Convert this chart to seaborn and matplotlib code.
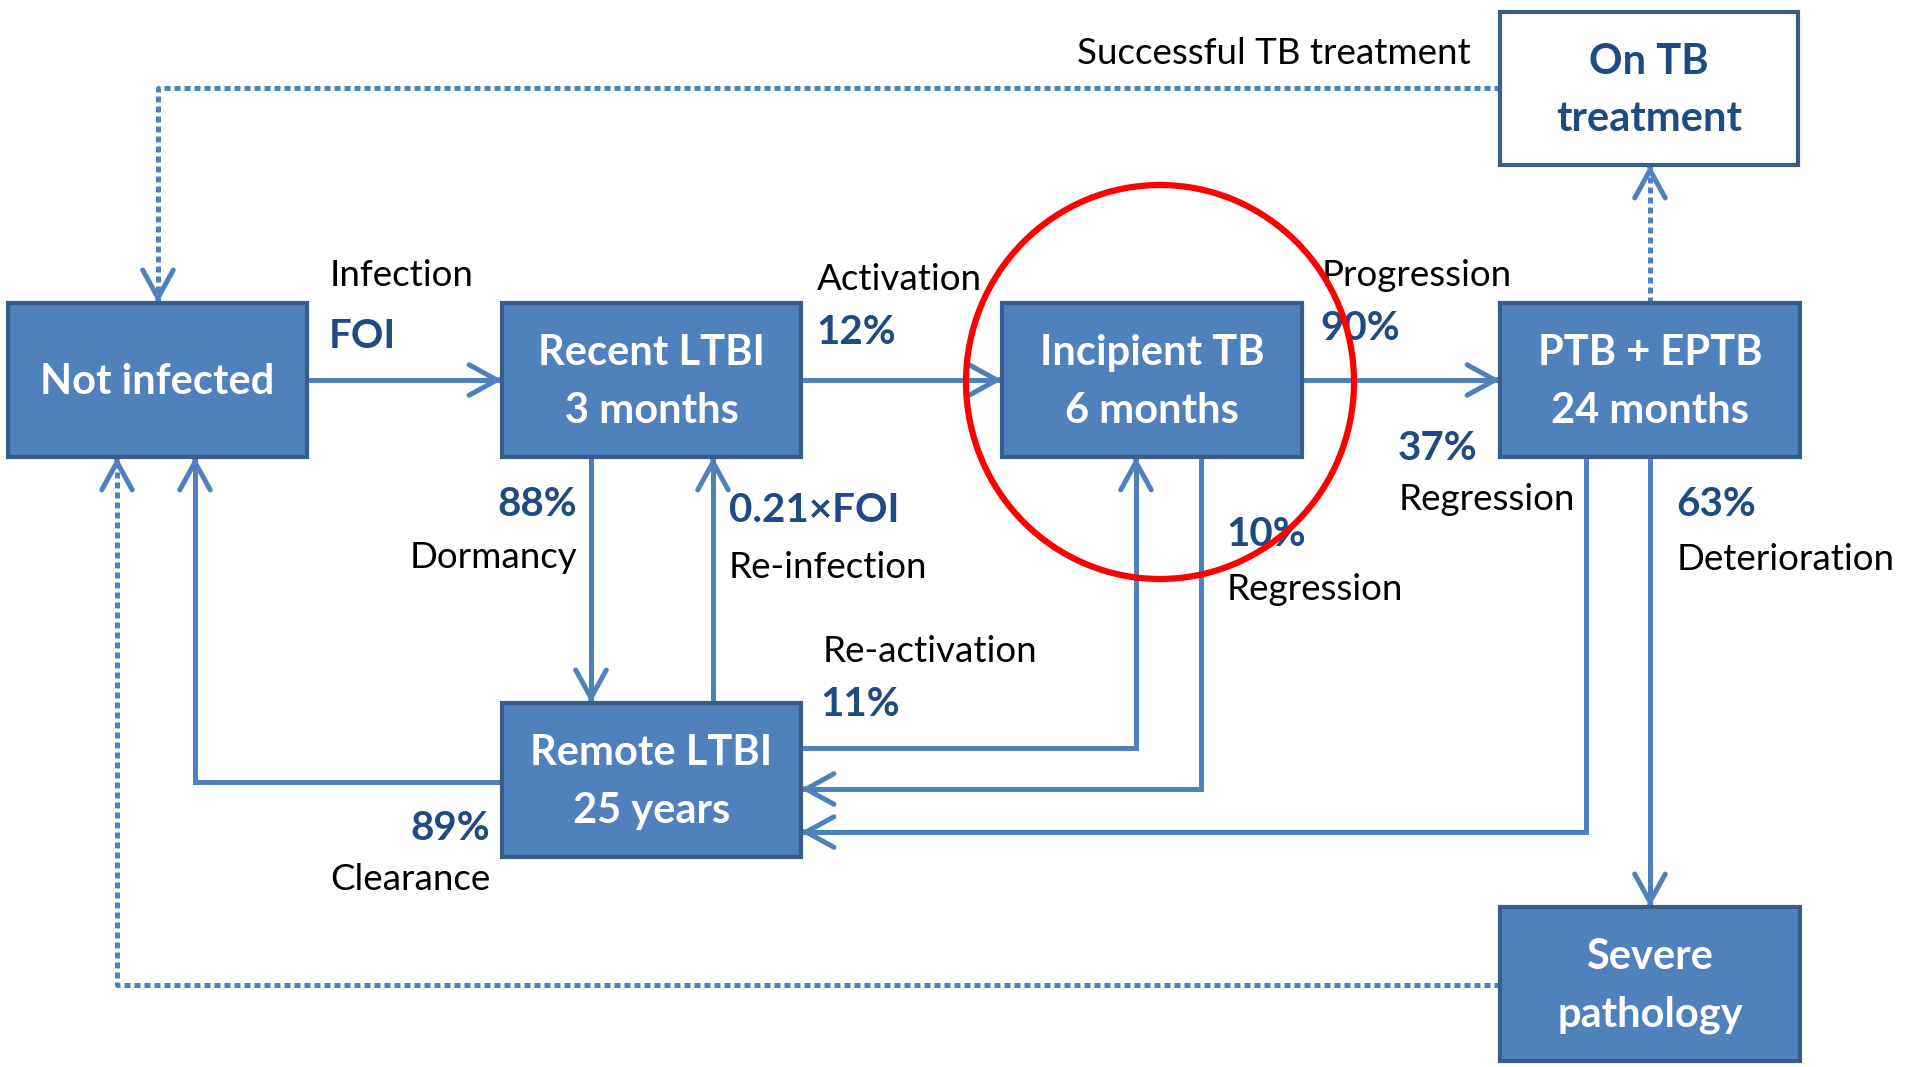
import matplotlib
matplotlib.use("Agg")
import matplotlib.pyplot as plt
from matplotlib.patches import Rectangle, Ellipse
import seaborn as sns

sns.set_theme(style="white")
plt.rcParams["font.family"] = ["Lato", "DejaVu Sans"]

# compartments of the TB model
box_names = ["not_infected", "recent", "incipient", "ptb", "on_tb", "remote", "severe"]
box_labels = ["Not infected", "Recent LTBI\n3 months", "Incipient TB\n6 months",
              "PTB + EPTB\n24 months", "On TB\ntreatment", "Remote LTBI\n25 years",
              "Severe\npathology"]

# transitions between compartments
flow_names = ["Infection", "Activation", "Progression", "Dormancy", "Re-infection",
              "Clearance", "Re-activation", "Regression", "Regression", "Deterioration"]
flow_rates = ["FOI", "12%", "90%", "88%", "0.21×FOI", "89%", "11%", "10%", "37%", "63%"]
return_label = "Successful TB treatment"

# ---- layout (pixel coords, y down) ----
W, H = 1911, 1067
box_xy = {
    "not_infected": (8, 303, 307, 457),
    "recent": (502, 303, 801, 457),
    "incipient": (1002, 303, 1302, 457),
    "ptb": (1500, 303, 1800, 457),
    "on_tb": (1500, 12, 1798, 165),
    "remote": (502, 703, 801, 857),
    "severe": (1500, 907, 1800, 1061),
}
flow_paths = [
    [(307, 380), (502, 380)],
    [(801, 380), (1002, 380)],
    [(1302, 380), (1500, 380)],
    [(591, 457), (591, 703)],
    [(713, 703), (713, 457)],
    [(502, 782), (195, 782), (195, 457)],
    [(801, 748), (1136, 748), (1136, 457)],
    [(1201, 457), (1201, 789), (801, 789)],
    [(1586, 457), (1586, 832), (801, 832)],
    [(1650, 457), (1650, 907)],
]
dotted_paths = [
    [(1650, 303), (1650, 165)],
    [(1500, 88), (158, 88), (158, 303)],
    [(1500, 985), (117, 985), (117, 457)],
]
# (name pos, name align, rate pos, rate align)
label_pos = [
    ((330, 276), "left", (329, 336), "left"),
    ((817, 280), "left", (816, 333), "left"),
    ((1322, 276), "left", (1320, 328), "left"),
    ((577, 557), "right", (577, 505), "right"),
    ((729, 567), "left", (729, 511), "left"),
    ((490, 880), "right", (490, 828), "right"),
    ((823, 652), "left", (820, 704), "left"),
    ((1227, 590), "left", (1226, 535), "left"),
    ((1399, 500), "left", (1398, 449), "left"),
    ((1677, 559), "left", (1676, 505), "left"),
]

fill = "#4F81BD"
line_c = "#4F81BD"
rate_c = "#1F4A82"
lw = 3.6

fig = plt.figure(figsize=(W / 100, H / 100), dpi=100)
ax = fig.add_axes([0, 0, 1, 1])
ax.set_xlim(0, W)
ax.set_ylim(H, 0)
ax.axis("off")


def head(ax, p_from, p_to):
    # solid open chevron at the end of a segment
    dx = p_to[0] - p_from[0]
    dy = p_to[1] - p_from[1]
    n = max(abs(dx), abs(dy))
    start = (p_to[0] - 2 * dx / n, p_to[1] - 2 * dy / n)
    ax.annotate("", xy=p_to, xytext=start,
                arrowprops=dict(arrowstyle="->,head_length=1.0,head_width=0.55",
                                mutation_scale=20, lw=lw, color=line_c,
                                shrinkA=0, shrinkB=0), zorder=3)


for path in flow_paths:
    xs, ys = zip(*path)
    ax.plot(xs, ys, color=line_c, lw=lw, solid_joinstyle="miter",
            solid_capstyle="butt", zorder=2)
    head(ax, path[-2], path[-1])

for path in dotted_paths:
    xs, ys = zip(*path)
    ax.plot(xs, ys, color=line_c, lw=lw, linestyle=(0, (1.2, 0.8)),
            dash_capstyle="butt", zorder=2)
    head(ax, path[-2], path[-1])

for name, label in zip(box_names, box_labels):
    x0, y0, x1, y1 = box_xy[name]
    white = name == "on_tb"
    ax.add_patch(Rectangle((x0, y0), x1 - x0, y1 - y0,
                           facecolor="white" if white else fill,
                           edgecolor="#385D8A", lw=3, zorder=4))
    ax.text((x0 + x1) / 2, (y0 + y1) / 2 + 2, label, ha="center", va="center",
            fontsize=30, fontweight="bold", linespacing=1.64,
            color=rate_c if white else "white", zorder=5)

for name, rate, (npos, nal, rpos, ral) in zip(flow_names, flow_rates, label_pos):
    ax.text(npos[0], npos[1], name, ha=nal, va="center", fontsize=26.5,
            color="black", zorder=5)
    ax.text(rpos[0], rpos[1], rate, ha=ral, va="center", fontsize=29,
            fontweight="bold", color=rate_c, zorder=5)

ax.text(1471, 54, return_label, ha="right", va="center", fontsize=26.5,
        color="black", zorder=5)

ax.add_patch(Ellipse((1160, 382), 388, 394, fill=False, edgecolor="#FF0000",
                     lw=4.5, zorder=6))

fig.savefig("out.png", dpi=100)
